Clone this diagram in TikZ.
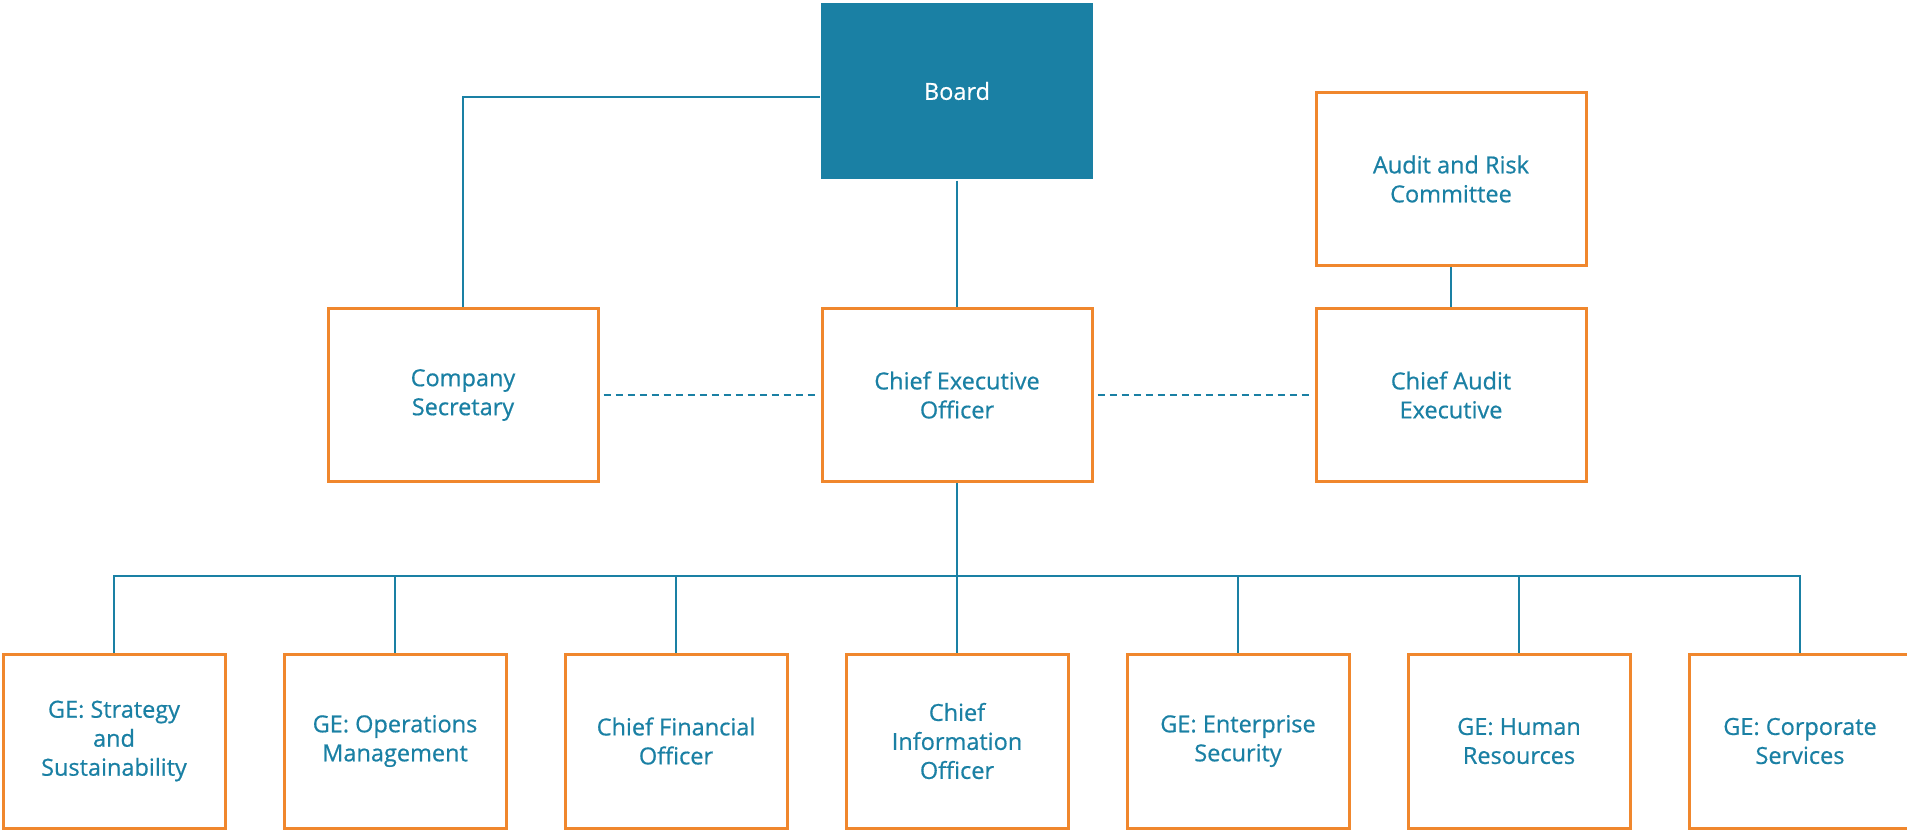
\documentclass[tikz,border=0pt]{standalone}
\usepackage{fontspec}
\setmainfont{Open Sans}
\newfontfamily\postfont{Open Sans}[FakeBold=0.6]
\usetikzlibrary{positioning}
\definecolor{orgteal}{RGB}{26,128,164}
\definecolor{orgorange}{RGB}{240,135,45}
\tikzset{post/.style={rectangle,draw=orgorange,line width=3pt,fill=white,minimum width=270pt,minimum height=173pt,align=center,text=orgteal,font=\postfont\fontsize{23.5}{29}\selectfont}}
\tikzset{ge/.style={post,minimum width=222pt,minimum height=174pt}}
\tikzset{board/.style={post,draw=none,fill=orgteal,text=white,minimum width=272pt,minimum height=176pt}}
\tikzset{link/.style={draw=orgteal,line width=2.6pt}}

\begin{document}
\begin{tikzpicture}[x=1pt,y=-1pt]
\useasboundingbox (0,0) rectangle (1907,830);
\begin{scope}[on grid]

\node[board] at (957,91) (board) {Board};
\node[post, below=304pt of board] (ceo) {Chief Executive\\Officer};
\node[post, left=494pt of ceo] (sec) {Company\\Secretary};
\node[post, right=494pt of ceo] (cae) {Chief Audit\\Executive};
\node[post, above=216pt of cae] (arc) {Audit and Risk\\Committee};

\coordinate[below=181pt of ceo] (bus);
\node[ge] at (114,741) (g1) {GE: Strategy\\and\\Sustainability};
\node[ge, right=281pt of g1] (g2) {GE: Operations\\Management};
\node[ge, right=281pt of g2] (g3) {Chief Financial\\Officer};
\node[ge, right=281pt of g3] (g4) {Chief\\Information\\Officer};
\node[ge, right=281pt of g4] (g5) {GE: Enterprise\\Security};
\node[ge, right=281pt of g5] (g6) {GE: Human\\Resources};
\node[ge, right=281pt of g6] (g7) {GE: Corporate\\Services};

\draw[link] ([yshift=-6pt]board.west) -| (sec.north);
\draw[link] (board.south) -- (ceo.north);
\draw[link] (arc.south) -- (cae.north);
\draw[link,dash pattern=on 7pt off 5pt,shorten <=4pt,shorten >=4pt] (sec.east) -- (ceo.west);
\draw[link,dash pattern=on 7pt off 5pt,shorten <=4pt,shorten >=4pt] (ceo.east) -- (cae.west);

\draw[link] (ceo.south) -- (g4.north);
\draw[link] (g1.north) |- (bus) -| (g7.north);
\draw[link] (g2.north) -- (g2.north |- bus);
\draw[link] (g3.north) -- (g3.north |- bus);
\draw[link] (g5.north) -- (g5.north |- bus);
\draw[link] (g6.north) -- (g6.north |- bus);

\end{scope}
\end{tikzpicture}
\end{document}
